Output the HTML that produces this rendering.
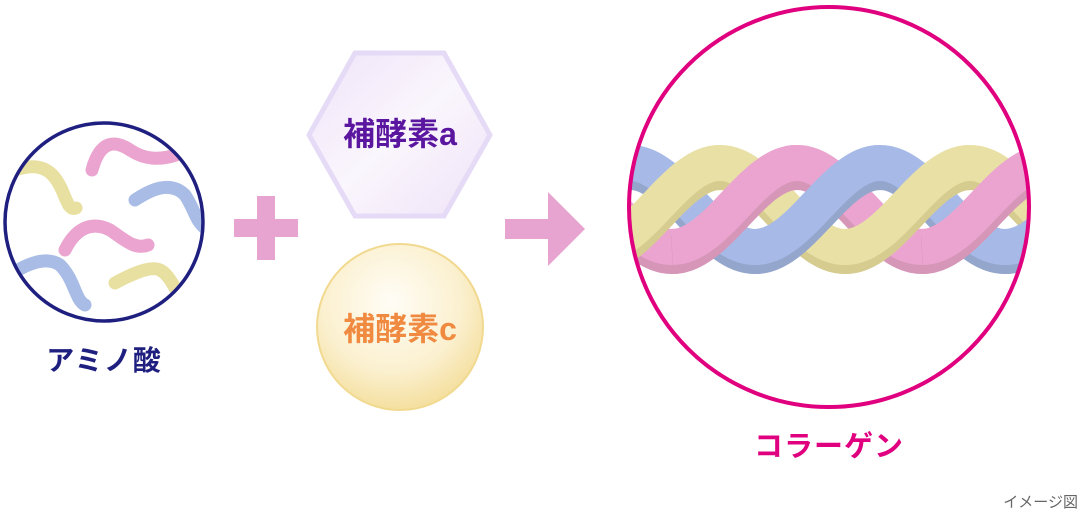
<!DOCTYPE html>
<html><head><meta charset="utf-8"><style>
html,body{margin:0;padding:0;background:#fff;}
body{width:1080px;height:512px;overflow:hidden;}
svg text{font-family:"Liberation Sans","Noto Sans CJK JP",sans-serif;font-weight:bold;}
</style></head><body>
<svg id="s" width="1080" height="512" viewBox="0 0 1080 512" xmlns="http://www.w3.org/2000/svg">
<defs>
<clipPath id="cl"><circle cx="104" cy="222" r="99"/></clipPath>
<clipPath id="cr"><circle cx="829" cy="207" r="200"/></clipPath>
<radialGradient id="gold" cx="0.45" cy="0.35" r="0.7">
<stop offset="0" stop-color="#fffdf6"/><stop offset="0.6" stop-color="#fbf0cf"/><stop offset="1" stop-color="#f3dc95"/></radialGradient>
<linearGradient id="hex" x1="0" y1="0" x2="1" y2="1">
<stop offset="0" stop-color="#efe3f8"/><stop offset="0.5" stop-color="#faf6fd"/><stop offset="1" stop-color="#eee2f7"/></linearGradient>
</defs>
<g clip-path="url(#cl)" fill="none" stroke-linecap="round" stroke-width="13">
<path d="M15 170 C45 160 55 175 62 190 C68 205 70 210 76 208" stroke="#e8e0a0"/>
<path d="M92 170 C100 140 115 140 130 150 C145 160 160 160 176 155" stroke="#eaa4cf"/>
<path d="M135 200 C150 190 170 180 185 195 C195 210 195 220 205 228" stroke="#a9bce6"/>
<path d="M65 250 C75 230 90 220 110 230 C125 240 135 250 148 245" stroke="#eaa4cf"/>
<path d="M10 275 C25 265 45 255 60 265 C75 280 75 300 85 305" stroke="#a9bce6"/>
<path d="M115 283 C130 275 150 265 160 270 C170 275 175 290 180 295" stroke="#e8e0a0"/>
</g>
<circle cx="104" cy="222" r="99" fill="none" stroke="#1f1f80" stroke-width="3.5"/>
<text x="104" y="370" font-size="28" letter-spacing="1" fill="#1f1f80" text-anchor="middle">アミノ酸</text>
<rect x="234" y="219" width="64" height="18" fill="#e8a4d0"/>
<rect x="257" y="196" width="18" height="64" fill="#e8a4d0"/>
<polygon points="355,53 444,53 490,135 444,216 355,216 309,135" fill="url(#hex)" stroke="#e6dbf6" stroke-width="5"/>
<text x="400" y="145" font-size="32" fill="#5b16a0" text-anchor="middle">補酵素a</text>
<circle cx="400" cy="327" r="83" fill="url(#gold)" stroke="#f1d98f" stroke-width="2"/>
<text x="400" y="340" font-size="32" fill="#f08a40" text-anchor="middle">補酵素c</text>
<rect x="505" y="219" width="50" height="20" fill="#e8a4d0"/>
<polygon points="548,192 585,229 548,266" fill="#e8a4d0"/>
<g id="braid" clip-path="url(#cr)" fill="none" stroke-linecap="butt"></g>
<circle cx="829" cy="207" r="200" fill="none" stroke="#e0007f" stroke-width="4"/>
<text x="829" y="456" font-size="29" letter-spacing="1" fill="#e0007f" text-anchor="middle">コラーゲン</text>
<text x="1078" y="507" font-size="15" fill="#666" text-anchor="end" style="font-weight:normal">イメージ図</text>
</svg>
<script>
var g=document.getElementById('braid');
var P=250,A=42,C=205,NS='http://www.w3.org/2000/svg';
var cols=[['#a7b9e6','#95a6cc',880],['#eaa4cf','#d696b8',797],['#e9e0a6','#d6cc8f',720]];
function Y(c,x){return C-A*Math.cos(2*Math.PI*(x-c[2])/P);}
function path(c,x0,x1,off){var d='';for(var x=x0;x<=x1;x+=2){d+=(x==x0?'M':'L')+x+' '+(Y(c,x)+off).toFixed(1);}return d;}
function draw(c,x0,x1){
 var p2=document.createElementNS(NS,'path');p2.setAttribute('d',path(c,x0,x1,8));
 p2.setAttribute('stroke',c[1]);p2.setAttribute('stroke-width','38');g.appendChild(p2);
 var p=document.createElementNS(NS,'path');p.setAttribute('d',path(c,x0,x1,0));
 p.setAttribute('stroke',c[0]);p.setAttribute('stroke-width','36');g.appendChild(p);
}
cols.forEach(function(c){draw(c,560,1100);});
cols.forEach(function(c){
 for(var k=-2;k<=2;k++){
  var e=c[2]+k*P, s=e-P/2;
  s=Math.round(s);e=Math.round(e);
  if(e<560||s>1100)continue;
  draw(c,s-(s%2),e-(e%2));
 }
});
</script>
</body></html>
